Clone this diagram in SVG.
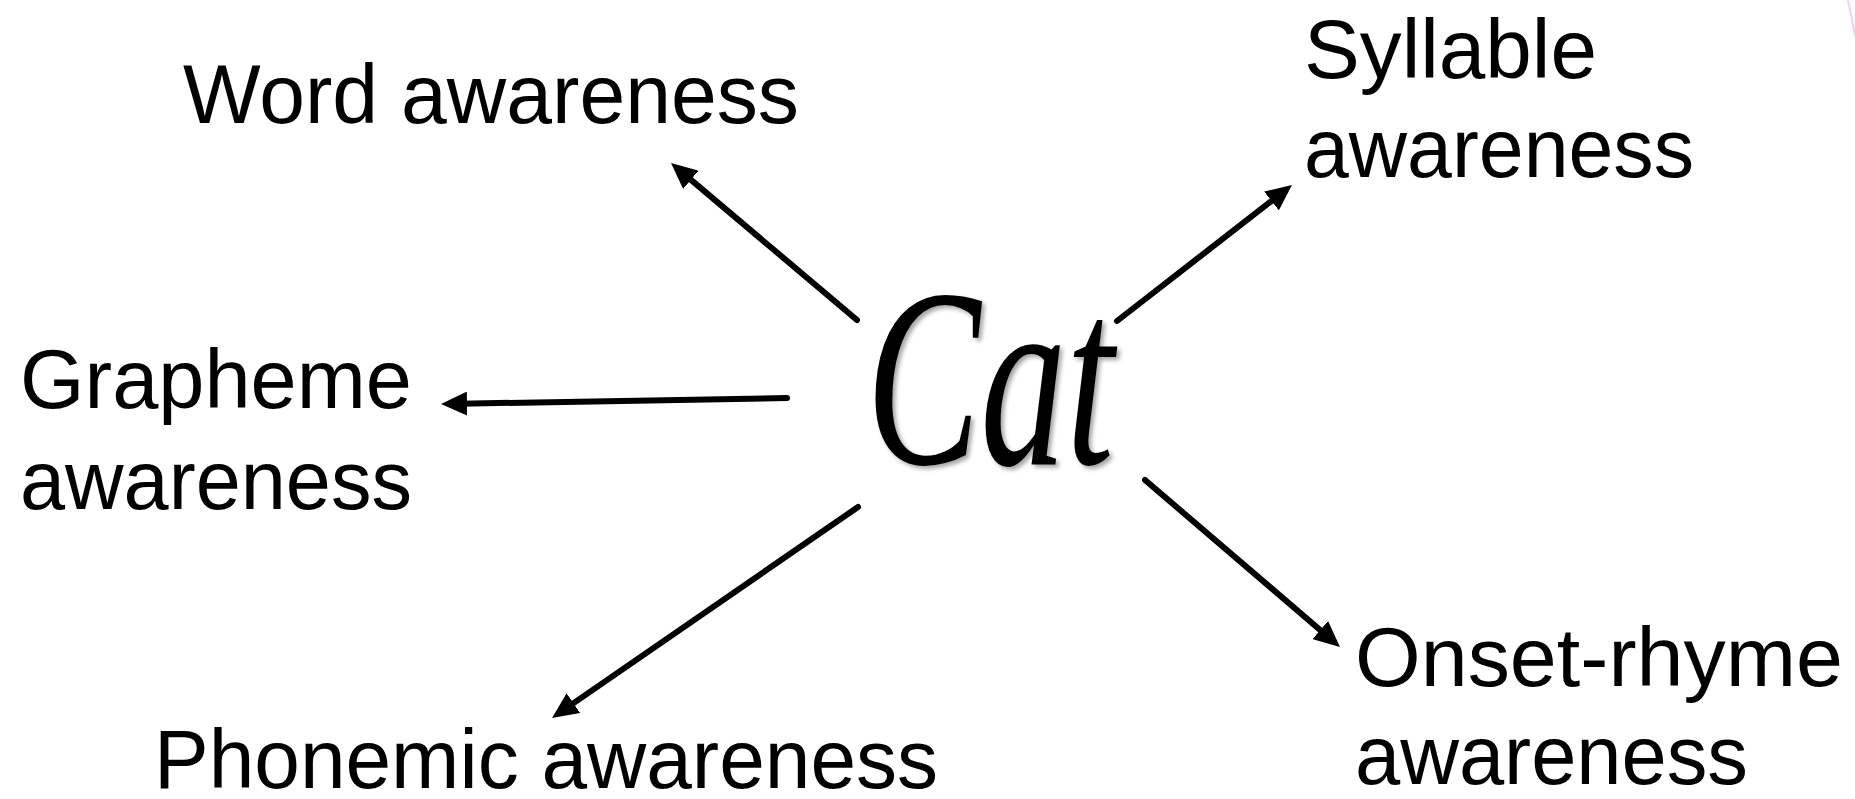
<svg xmlns="http://www.w3.org/2000/svg" width="1855" height="799" viewBox="0 0 1855 799">
  <style>
    .label { font-family: "Liberation Sans", Arial, sans-serif; font-size: 84px; fill: #000; }
    .center { font-family: "Liberation Serif", "Times New Roman", serif; font-style: italic; font-size: 255px; fill: #000; }
    .edge { fill: none; stroke: #000; stroke-width: 6; stroke-linecap: round; marker-end: url(#arrow); }
  </style>
  <defs>
    <marker id="arrow" viewBox="0 0 26 24" refX="6" refY="12" markerWidth="26" markerHeight="24" markerUnits="userSpaceOnUse" orient="auto">
      <path d="M0,0 L26,12 L0,24 Z" fill="#000"/>
    </marker>
    <filter id="soft-shadow" x="-10%" y="-10%" width="130%" height="130%">
      <feDropShadow dx="3" dy="3" stdDeviation="2" flood-color="#000" flood-opacity="0.35"/>
    </filter>
  </defs>

  <rect width="1855" height="799" fill="#fff"/>

  <!-- corner ornament -->
  <path d="M1848,0 Q1852,18 1855,36" fill="none" stroke="#f4cdf4" stroke-width="2"/>

  <g id="center-word">
    <text class="center" x="866" y="464" textLength="248" lengthAdjust="spacingAndGlyphs" filter="url(#soft-shadow)">Cat</text>
  </g>

  <g id="word-awareness">
    <text class="label" x="183" y="123" textLength="616" lengthAdjust="spacingAndGlyphs">Word awareness</text>
  </g>

  <g id="syllable-awareness">
    <text class="label" x="1304" y="78" textLength="293" lengthAdjust="spacingAndGlyphs">Syllable</text>
    <text class="label" x="1304" y="177" textLength="390" lengthAdjust="spacingAndGlyphs">awareness</text>
  </g>

  <g id="grapheme-awareness">
    <text class="label" x="20" y="408" textLength="392" lengthAdjust="spacingAndGlyphs">Grapheme</text>
    <text class="label" x="20" y="509" textLength="392" lengthAdjust="spacingAndGlyphs">awareness</text>
  </g>

  <g id="phonemic-awareness">
    <text class="label" x="154" y="788" textLength="784" lengthAdjust="spacingAndGlyphs">Phonemic awareness</text>
  </g>

  <g id="onset-rhyme-awareness">
    <text class="label" x="1355" y="686" textLength="488" lengthAdjust="spacingAndGlyphs">Onset-rhyme</text>
    <text class="label" x="1355" y="784" textLength="393" lengthAdjust="spacingAndGlyphs">awareness</text>
  </g>

  <g id="connectors">
    <line class="edge" x1="857" y1="320" x2="686.3" y2="175.9"/>
    <line class="edge" x1="787" y1="398" x2="461" y2="403.7"/>
    <line class="edge" x1="1117" y1="321" x2="1276.2" y2="197.3"/>
    <line class="edge" x1="1145" y1="480" x2="1324.8" y2="634"/>
    <line class="edge" x1="858" y1="507" x2="568.5" y2="706.6"/>
  </g>
</svg>
